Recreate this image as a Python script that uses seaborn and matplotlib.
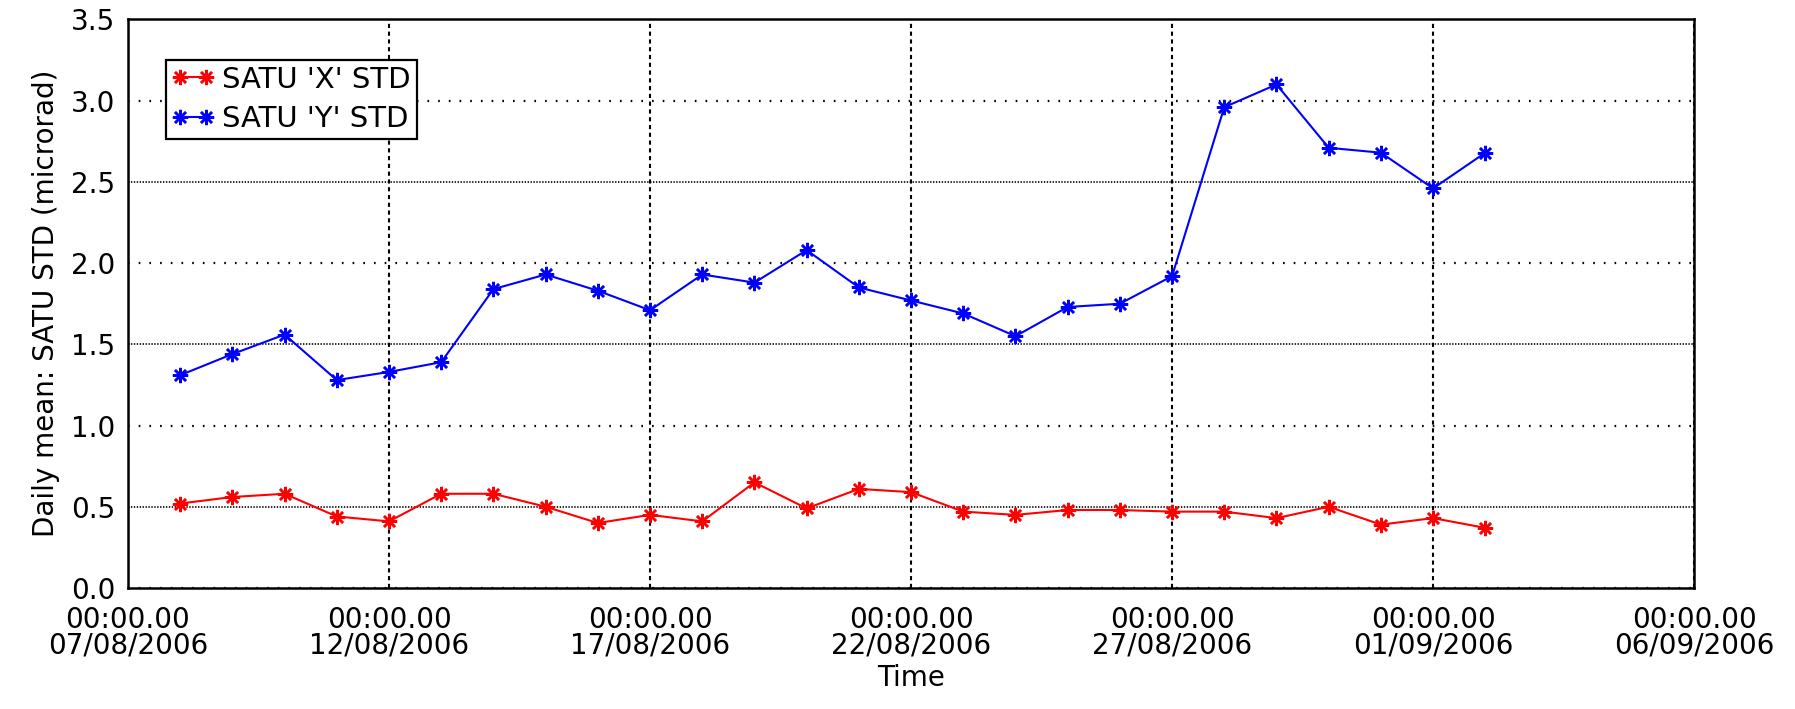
import matplotlib
matplotlib.use("Agg")
import matplotlib.pyplot as plt
import matplotlib.dates as mdates
import matplotlib.ticker as mticker
import numpy as np
import pandas as pd
import seaborn as sns

# Daily means of the SATU standard deviation (microrad)
dates = pd.date_range("2006-08-08", "2006-09-02", freq="D")
satu_x_std = [0.52, 0.56, 0.58, 0.44, 0.41, 0.58, 0.58, 0.50, 0.40, 0.45,
              0.41, 0.65, 0.49, 0.61, 0.59, 0.47, 0.45, 0.48, 0.48, 0.47,
              0.47, 0.43, 0.50, 0.39, 0.43, 0.37]
satu_y_std = [1.31, 1.44, 1.56, 1.28, 1.33, 1.39, 1.84, 1.93, 1.83, 1.71,
              1.93, 1.88, 2.08, 1.85, 1.77, 1.69, 1.55, 1.73, 1.75, 1.92,
              2.96, 3.10, 2.71, 2.68, 2.46, 2.68]
series_labels = ["SATU 'X' STD", "SATU 'Y' STD"]
series_colors = ["red", "blue"]
x_ticks = pd.date_range("2006-08-07", "2006-09-06", freq="5D")
y_ticks = [0.0, 0.5, 1.0, 1.5, 2.0, 2.5, 3.0, 3.5]

sns.set_style("white")
plt.rcParams["font.family"] = ["DejaVu Sans"]
plt.rcParams["lines.scale_dashes"] = False
plt.rcParams["text.color"] = "black"
plt.rcParams["axes.labelcolor"] = "black"

fig = plt.figure(figsize=(17.95, 7.09), dpi=100)
ax = fig.add_axes([0.0713, 0.1707, 0.8725, 0.8018])

star = (8, 2, 0)
for vals, lab, col in zip([satu_x_std, satu_y_std], series_labels, series_colors):
    sns.lineplot(x=dates, y=vals, ax=ax, color=col, label=lab, linewidth=1.5,
                 marker=star, markersize=11, markeredgecolor=col,
                 markerfacecolor=col, markeredgewidth=1.8)

ax.set_xlim(x_ticks[0], x_ticks[-1])
ax.set_ylim(0, 3.5)
ax.set_xticks(x_ticks)
ax.set_yticks(y_ticks)
ax.xaxis.set_major_formatter(mdates.DateFormatter("%H:%M.%S\n%d/%m/%Y"))
ax.yaxis.set_major_formatter(mticker.FormatStrFormatter("%.1f"))

ax.tick_params(axis="x", direction="in", length=5, width=1, pad=13,
               labelsize=20, colors="black")
ax.tick_params(axis="y", direction="in", length=5, width=1, pad=9,
               labelsize=20, colors="black")
for t in ax.get_xticklabels():
    t.set_linespacing(0.9)

ax.set_xlabel("Time", fontsize=20, labelpad=3, color="black")
ax.set_ylabel("Daily mean: SATU STD (microrad)", fontsize=20, labelpad=8,
              color="black")

# grid: dashed verticals, alternating sparse/dense dotted horizontals
ax.grid(True, axis="x", color="black", linewidth=1.5, linestyle=(0, (3.0, 2.6)))
ax.grid(True, axis="y", color="black", linewidth=1.2)
for i, gl in enumerate(ax.get_ygridlines()):
    if i % 2 == 0:
        gl.set_linestyle((0, (1.2, 6.5)))
        gl.set_linewidth(1.6)
    else:
        gl.set_linestyle((0, (1.0, 1.1)))
        gl.set_linewidth(1.2)
ax.set_axisbelow(True)

for sp in ax.spines.values():
    sp.set_color("black")
    sp.set_linewidth(1.8)

leg = ax.legend(loc="upper left", bbox_to_anchor=(0.024, 0.929),
                borderaxespad=0, numpoints=2, fontsize=21, frameon=True,
                fancybox=False, edgecolor="black", framealpha=1,
                handlelength=1.5, handletextpad=0.25, borderpad=0.2,
                labelspacing=0.4)
leg.get_frame().set_linewidth(1.6)
for txt in leg.get_texts():
    txt.set_color("black")

fig.savefig("out.png", dpi=100, facecolor="white")
